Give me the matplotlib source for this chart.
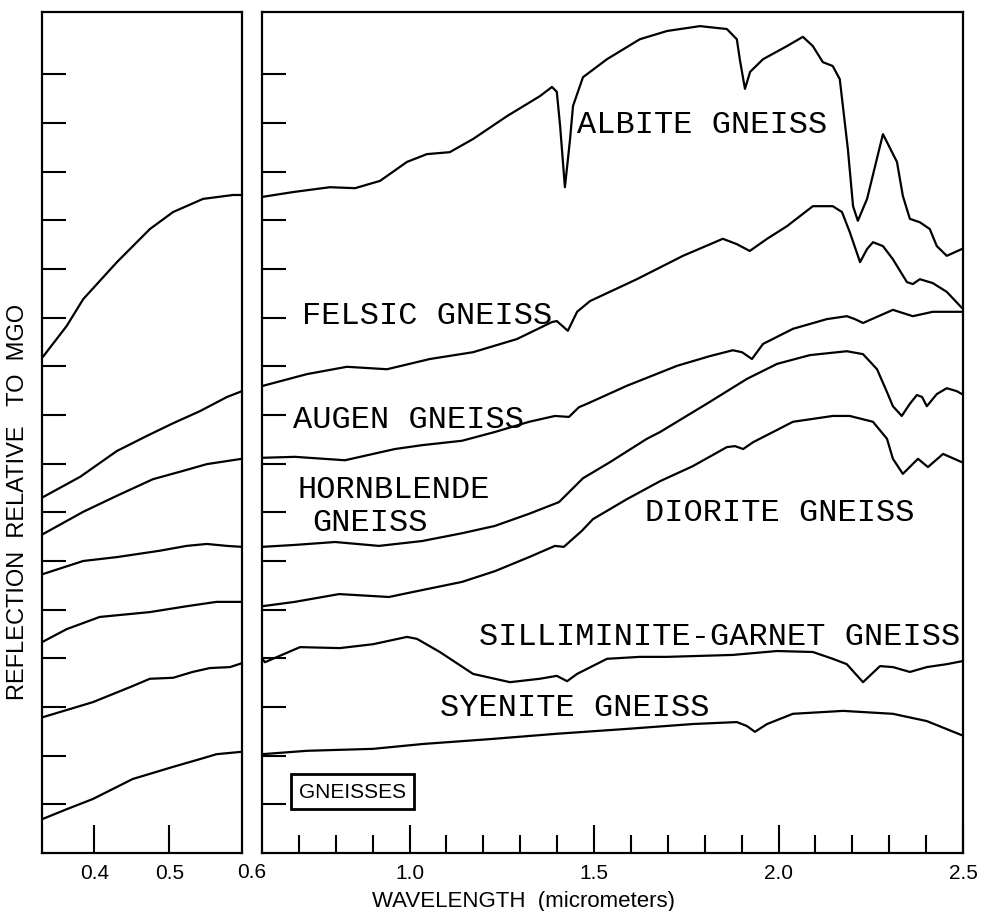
import matplotlib
matplotlib.use("Agg")
import matplotlib.pyplot as plt
from matplotlib.ticker import FixedLocator

# ---------------------------------------------------------------------------
# Spectral reflectance of gneisses (curves offset vertically, relative units)
# "vis" = 0.33-0.6 um panel, "ir" = 0.6-2.5 um panel
# ---------------------------------------------------------------------------
albite_vis_wl = [0.331, 0.363, 0.385, 0.430, 0.474, 0.505, 0.545, 0.585, 0.597]
albite_vis_r = [10.19, 10.83, 11.38, 12.14, 12.82, 13.17, 13.44, 13.52, 13.52]
albite_ir_wl = [0.600, 0.684, 0.784, 0.852, 0.920, 0.993, 1.047, 1.109, 1.172,
                1.264, 1.353, 1.386, 1.399, 1.408, 1.421, 1.435, 1.443, 1.470,
                1.535, 1.624, 1.698, 1.787, 1.860, 1.887, 1.895, 1.909, 1.923,
                1.958, 2.023, 2.066, 2.093, 2.120, 2.147, 2.166, 2.188, 2.202,
                2.215, 2.240, 2.283, 2.321, 2.337, 2.356, 2.383, 2.410, 2.429,
                2.456, 2.497]
albite_ir_r = [13.48, 13.58, 13.68, 13.66, 13.81, 14.20, 14.36, 14.40, 14.67,
               15.14, 15.55, 15.74, 15.64, 14.94, 13.68, 14.67, 15.35, 15.94,
               16.31, 16.72, 16.89, 16.99, 16.93, 16.72, 16.31, 15.70, 16.05,
               16.31, 16.58, 16.77, 16.58, 16.25, 16.17, 15.90, 14.46, 13.29,
               12.99, 13.44, 14.77, 14.20, 13.50, 13.03, 12.96, 12.82, 12.47,
               12.27, 12.41]

felsic_vis_wl = [0.331, 0.381, 0.430, 0.470, 0.505, 0.541, 0.577, 0.597]
felsic_vis_r = [7.31, 7.73, 8.26, 8.57, 8.83, 9.08, 9.37, 9.49]
felsic_ir_wl = [0.603, 0.722, 0.830, 0.939, 1.055, 1.172, 1.291, 1.386, 1.399,
                1.429, 1.454, 1.489, 1.616, 1.741, 1.849, 1.887, 1.922, 1.969,
                2.023, 2.093, 2.147, 2.172, 2.193, 2.221, 2.240, 2.256, 2.283,
                2.310, 2.348, 2.364, 2.383, 2.418, 2.456, 2.497]
felsic_ir_r = [9.60, 9.84, 9.99, 9.94, 10.15, 10.29, 10.56, 10.91, 10.93,
               10.73, 11.12, 11.34, 11.79, 12.27, 12.62, 12.51, 12.37, 12.62,
               12.88, 13.29, 13.29, 13.17, 12.76, 12.14, 12.41, 12.55, 12.47,
               12.20, 11.73, 11.69, 11.79, 11.71, 11.53, 11.20]

augen_vis_wl = [0.331, 0.385, 0.430, 0.478, 0.518, 0.550, 0.597]
augen_vis_r = [6.55, 7.01, 7.34, 7.68, 7.85, 7.99, 8.10]
augen_ir_wl = [0.600, 0.689, 0.825, 0.960, 1.034, 1.142, 1.231, 1.324, 1.394,
               1.432, 1.459, 1.481, 1.589, 1.725, 1.814, 1.876, 1.901, 1.928,
               1.958, 2.039, 2.131, 2.185, 2.207, 2.229, 2.253, 2.310, 2.364,
               2.418, 2.497]
augen_ir_r = [8.12, 8.14, 8.07, 8.30, 8.38, 8.47, 8.65, 8.86, 8.98,
              8.96, 9.16, 9.23, 9.60, 10.01, 10.21, 10.33, 10.29, 10.15,
              10.46, 10.77, 10.97, 11.03, 10.97, 10.89, 10.97, 11.16, 11.03,
              11.12, 11.12]

hornblende_vis_wl = [0.331, 0.385, 0.430, 0.487, 0.523, 0.550, 0.577, 0.597]
hornblende_vis_r = [5.73, 6.00, 6.08, 6.21, 6.31, 6.35, 6.31, 6.29]
hornblende_ir_wl = [0.600, 0.689, 0.798, 0.917, 1.034, 1.142, 1.231, 1.324,
                    1.378, 1.405, 1.470, 1.543, 1.643, 1.679, 1.814, 1.914,
                    1.996, 2.085, 2.185, 2.229, 2.267, 2.294, 2.310, 2.334,
                    2.356, 2.375, 2.389, 2.402, 2.429, 2.456, 2.483, 2.497]
hornblende_ir_r = [6.29, 6.33, 6.39, 6.31, 6.41, 6.57, 6.72, 6.97,
                   7.13, 7.21, 7.70, 8.03, 8.51, 8.65, 9.27, 9.74,
                   10.05, 10.23, 10.31, 10.25, 9.94, 9.47, 9.18, 8.98,
                   9.23, 9.41, 9.37, 9.18, 9.43, 9.55, 9.49, 9.43]

diorite_vis_wl = [0.331, 0.363, 0.407, 0.474, 0.523, 0.563, 0.597]
diorite_vis_r = [4.34, 4.60, 4.85, 4.95, 5.07, 5.16, 5.16]
diorite_ir_wl = [0.600, 0.689, 0.809, 0.944, 1.007, 1.142, 1.231, 1.324, 1.394,
                 1.418, 1.467, 1.497, 1.589, 1.679, 1.768, 1.860, 1.882, 1.904,
                 1.931, 2.039, 2.147, 2.193, 2.256, 2.294, 2.310, 2.337, 2.378,
                 2.405, 2.446, 2.497]
diorite_ir_r = [5.07, 5.16, 5.32, 5.26, 5.36, 5.57, 5.79, 6.08, 6.31,
                6.29, 6.62, 6.86, 7.27, 7.64, 7.95, 8.34, 8.36, 8.30,
                8.44, 8.86, 8.98, 8.98, 8.86, 8.51, 8.10, 7.79, 8.10,
                7.93, 8.20, 8.03]

sillim_vis_wl = [0.331, 0.398, 0.451, 0.474, 0.505, 0.531, 0.554, 0.581, 0.597]
sillim_vis_r = [2.79, 3.10, 3.43, 3.58, 3.60, 3.72, 3.80, 3.82, 3.90]
sillim_ir_wl = [0.600, 0.608, 0.703, 0.811, 0.901, 0.993, 1.020, 1.082, 1.172,
                1.272, 1.353, 1.399, 1.427, 1.454, 1.535, 1.624, 1.698, 1.876,
                1.996, 2.093, 2.147, 2.185, 2.229, 2.275, 2.310, 2.356, 2.402,
                2.456, 2.497]
sillim_ir_r = [4.00, 3.92, 4.23, 4.21, 4.29, 4.44, 4.40, 4.13, 3.68,
               3.51, 3.58, 3.64, 3.53, 3.68, 3.99, 4.03, 4.03, 4.07,
               4.15, 4.13, 3.99, 3.88, 3.51, 3.84, 3.82, 3.72, 3.82,
               3.88, 3.94]

syenite_vis_wl = [0.331, 0.363, 0.398, 0.451, 0.505, 0.541, 0.563, 0.597]
syenite_vis_r = [0.70, 0.90, 1.11, 1.52, 1.77, 1.93, 2.03, 2.08]
syenite_ir_wl = [0.600, 0.722, 0.901, 1.036, 1.218, 1.399, 1.589, 1.768, 1.887,
                 1.914, 1.936, 1.969, 2.039, 2.175, 2.310, 2.402, 2.497]
syenite_ir_r = [2.03, 2.10, 2.14, 2.24, 2.34, 2.45, 2.55, 2.65, 2.69,
                2.61, 2.49, 2.65, 2.86, 2.92, 2.86, 2.71, 2.42]

vis_curves = [(albite_vis_wl, albite_vis_r), (felsic_vis_wl, felsic_vis_r),
              (augen_vis_wl, augen_vis_r), (hornblende_vis_wl, hornblende_vis_r),
              (diorite_vis_wl, diorite_vis_r), (sillim_vis_wl, sillim_vis_r),
              (syenite_vis_wl, syenite_vis_r)]
ir_curves = [(albite_ir_wl, albite_ir_r), (felsic_ir_wl, felsic_ir_r),
             (augen_ir_wl, augen_ir_r), (hornblende_ir_wl, hornblende_ir_r),
             (diorite_ir_wl, diorite_ir_r), (sillim_ir_wl, sillim_ir_r),
             (syenite_ir_wl, syenite_ir_r)]

# curve labels: (text, wavelength, reflectance, alignment) -- vertically centred
curve_labels = [
    ("ALBITE GNEISS", 1.454, 14.98, "left"),
    ("FELSIC GNEISS", 0.708, 11.05, "left"),
    ("AUGEN GNEISS", 0.684, 8.92, "left"),
    ("HORNBLENDE", 0.695, 7.48, "left"),
    ("GNEISS", 0.735, 6.80, "left"),
    ("DIORITE GNEISS", 1.638, 7.01, "left"),
    ("SILLIMINITE-GARNET GNEISS", 2.492, 4.46, "right"),
    ("SYENITE GNEISS", 1.082, 3.00, "left"),
]

y_ticks = list(range(1, 17))
vis_major = [0.4, 0.5]
vis_major_labels = ["0.4", "0.5"]
ir_major = [1.0, 1.5, 2.0, 2.5]
ir_major_labels = ["1.0", "1.5", "2.0", "2.5"]
ir_minor = [0.7, 0.8, 0.9, 1.1, 1.2, 1.3, 1.4, 1.6, 1.7, 1.8, 1.9,
            2.1, 2.2, 2.3, 2.4]

W, H = 986, 912
fig = plt.figure(figsize=(W / 100, H / 100), dpi=100)
fig.patch.set_facecolor("white")

sans = ["Liberation Sans", "DejaVu Sans"]
mono = ["Liberation Mono", "DejaVu Sans Mono"]

bottom = 58 / H
height = 841 / H
ax_vis = fig.add_axes([42 / W, bottom, 200 / W, height])
ax_ir = fig.add_axes([262 / W, bottom, 701 / W, height])

for ax in (ax_vis, ax_ir):
    ax.set_ylim(0, 17.28)
    for sp in ax.spines.values():
        sp.set_linewidth(1.6)
        sp.set_color("black")
    ax.set_yticks(y_ticks)
    ax.tick_params(axis="y", direction="in", length=17, width=1.5,
                   left=True, right=False, labelleft=False)
    ax.tick_params(axis="x", which="major", direction="in", length=20,
                   width=1.5, top=False, pad=7)

ax_vis.set_xlim(0.33, 0.597)
ax_vis.set_xticks(vis_major)
ax_vis.set_xticklabels(vis_major_labels, family=sans, fontsize=15)

ax_ir.set_xlim(0.6, 2.5)
ax_ir.set_xticks(ir_major)
ax_ir.set_xticklabels(ir_major_labels, family=sans, fontsize=15)
ax_ir.xaxis.set_minor_locator(FixedLocator(ir_minor))
ax_ir.tick_params(axis="x", which="minor", direction="in", length=13,
                  width=1.5, top=False)

for wl, r in vis_curves:
    ax_vis.plot(wl, r, color="black", lw=1.6, solid_joinstyle="round",
                solid_capstyle="round")
for wl, r in ir_curves:
    ax_ir.plot(wl, r, color="black", lw=1.6, solid_joinstyle="round",
               solid_capstyle="round")

for text, x, y, align in curve_labels:
    ax_ir.text(x, y, text, family=mono, fontsize=23, ha=align, va="center")

ax_ir.text(0.845, 1.27, "GNEISSES", family=sans, fontsize=15,
           ha="center", va="center",
           bbox=dict(boxstyle="square,pad=0.38", fc="white", ec="black", lw=2))

fig.text(252 / W, 1 - 873 / H, "0.6", family=sans, fontsize=15,
         ha="center", va="center")
fig.text(524 / W, 1 - 902 / H, "WAVELENGTH  (micrometers)", family=sans,
         fontsize=16, ha="center", va="center")
fig.text(18 / W, 1 - 502 / H, "REFLECTION  RELATIVE   TO  MGO", family=sans,
         fontsize=17, rotation=90, ha="center", va="center")

fig.savefig("out.png", dpi=100)
